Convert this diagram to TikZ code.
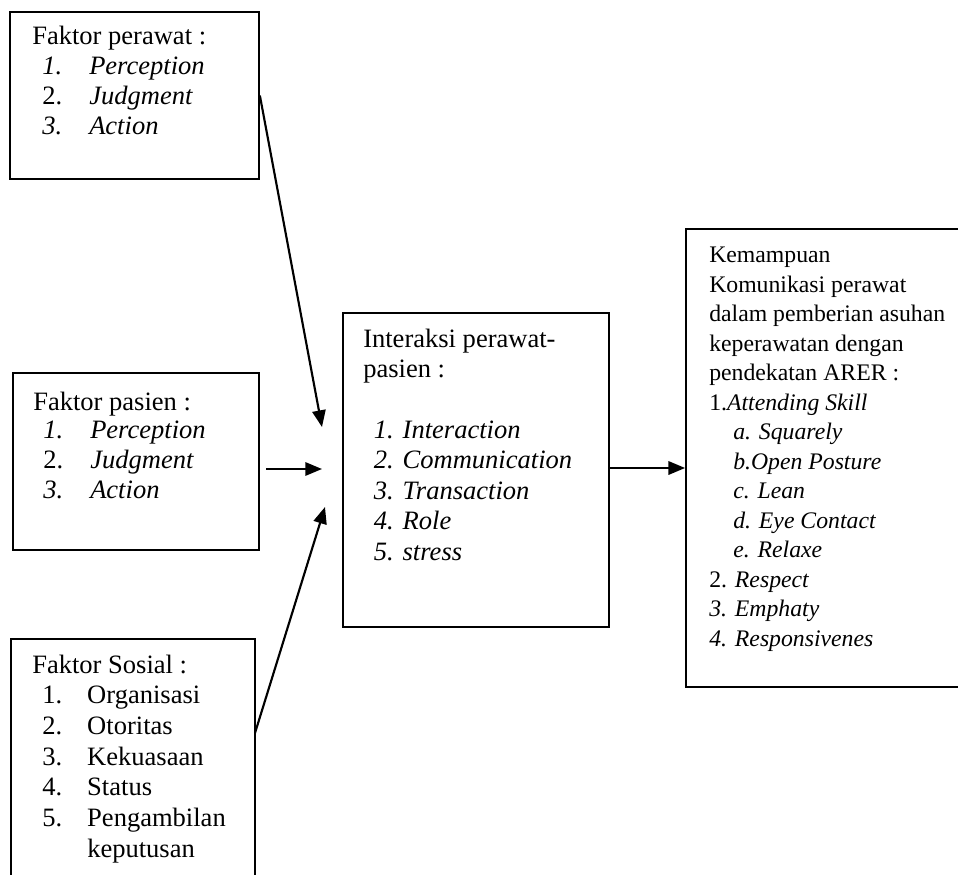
\documentclass[tikz,border=0pt]{standalone}
\usepackage{fontspec}
\setmainfont{Liberation Serif}
\usetikzlibrary{positioning,fit,arrows.meta}

\newcommand{\numitem}[3][35.25pt]{\hspace*{7.5pt}\makebox[#1][l]{#2}#3}

\tikzset{
  box/.style={draw, line width=1.3pt, inner sep=0pt},
  txt/.style={anchor=base west, inner sep=0pt, align=left},
  arr/.style={line width=1.6pt, -{Triangle[length=12.5pt,width=10pt]}}
}

\begin{document}
\begin{tikzpicture}[x=0.75pt, y=-0.75pt]
  \useasboundingbox (0,0) rectangle (958,875);

  % boxes (pixel grid of the reference, y downwards)
  \node[box, fit={(10,12) (259,179)}] (perawat) {};
  \node[box, fit={(13,373) (259,550)}] (pasien) {};
  \node[box, fit={(11,639) (255,895)}] (sosial) {};
  \node[box, fit={(343,313) (609,627)}] (interaksi) {};
  \node[box, fit={(686,229) (975,687)}] (kemampuan) {};

  % texts (placed at the baseline of their last line)
  \node[txt, font=\fontsize{19.9}{22.5}\selectfont] (perawatTxt) at (32,134) {Faktor perawat :\\
    \numitem{\textit{1.}}{\textit{Perception}}\\
    \numitem{2.}{\textit{Judgment}}\\
    \numitem{\textit{3.}}{\textit{Action}}};
  \node[txt, font=\fontsize{19.9}{22.5}\selectfont] (pasienTxt) at (33,498) {Faktor pasien :\\[-1.5pt]
    \numitem{\textit{1.}}{\textit{Perception}}\\
    \numitem{2.}{\textit{Judgment}}\\
    \numitem{\textit{3.}}{\textit{Action}}};
  \node[txt, font=\fontsize{19.9}{23}\selectfont] (sosialTxt) at (32,857) {Faktor Sosial :\\
    \numitem[33.75pt]{1.}{Organisasi}\\
    \numitem[33.75pt]{2.}{Otoritas}\\
    \numitem[33.75pt]{3.}{Kekuasaan}\\
    \numitem[33.75pt]{4.}{Status}\\
    \numitem[33.75pt]{5.}{Pengambilan}\\
    \numitem[33.75pt]{}{keputusan}};
  \node[txt, font=\fontsize{19.9}{22.8}\selectfont] (interaksiTxt) at (363,560) {Interaksi perawat-\\
    pasien :\\[22.8pt]
    \hspace*{8pt}\textit{1. Interaction}\\
    \hspace*{8pt}\textit{2. Communication}\\
    \hspace*{8pt}\textit{3. Transaction}\\
    \hspace*{8pt}\textit{4. Role}\\
    \hspace*{8pt}\textit{5. stress}};
  \node[txt, font=\fontsize{17.8}{22.1}\selectfont] (kemampuanTxt) at (709,646) {Kemampuan\\
    Komunikasi perawat\\
    dalam pemberian asuhan\\
    keperawatan dengan\\
    pendekatan ARER :\\
    1.\textit{Attending Skill}\\
    \hspace*{18pt}\textit{a. Squarely}\\
    \hspace*{18pt}\textit{b.Open Posture}\\
    \hspace*{18pt}\textit{c. Lean}\\
    \hspace*{18pt}\textit{d. Eye Contact}\\
    \hspace*{18pt}\textit{e. Relaxe}\\
    2. \textit{Respect}\\
    \textit{3. Emphaty}\\
    \textit{4. Responsivenes}};

  % arrow ends
  \coordinate (tipA) at (322,427);
  \coordinate (tipB) at (322,469);
  \coordinate (tipC) at (325,507);
  \coordinate (startB) at (266,469);
  \coordinate (startC) at (255,733);

  % arrows
  \draw[arr] (perawat.east) -- (tipA);
  \draw[arr] (startB) -- (tipB);
  \draw[arr] (startC) -- (tipC);
  \draw[arr] (interaksi.east |- 0,468) -- (kemampuan.west |- 0,468);
\end{tikzpicture}
\end{document}
